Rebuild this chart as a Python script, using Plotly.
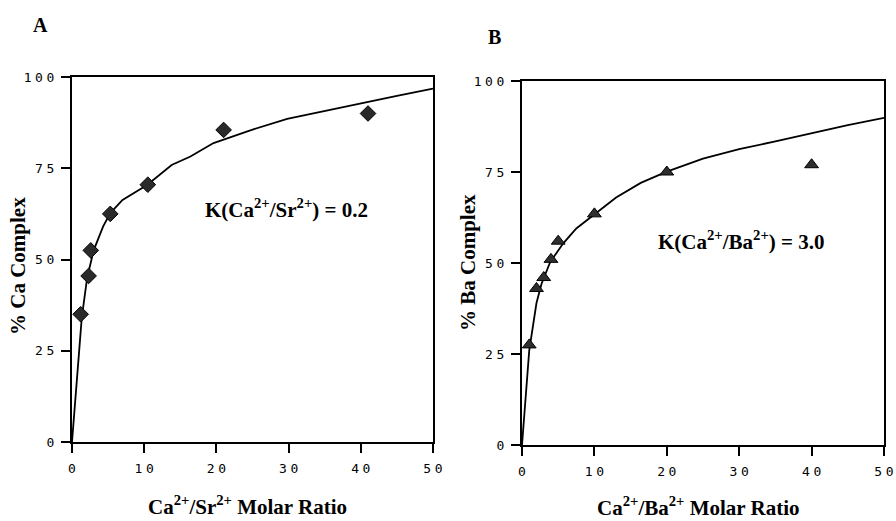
import plotly.graph_objects as go

# Panel A: Ca / Sr
a_x = [1.2, 2.3, 2.6, 5.3, 10.5, 21, 41]
a_y = [35, 45.5, 52.5, 62.5, 70.5, 85.5, 90]
a_fit_x = [0, 1.35, 2.1, 3, 4.3, 5.3, 7, 10.4, 13.8, 16.4, 19.6, 24.7, 29.8, 35, 40, 45, 50]
a_fit_y = [0, 34, 45, 52.5, 59, 62.7, 66.3, 70.4, 75.9, 78.2, 81.9, 85.4, 88.5, 90.7, 92.7, 94.8, 96.8]

# Panel B: Ca / Ba
b_x = [1, 2, 3, 4, 5, 10, 20, 40]
b_y = [27.5, 43, 46, 51, 56, 63.5, 75, 77]
b_fit_x = [0, 1, 2, 2.7, 3.9, 5.7, 7.5, 10, 13, 16.4, 20, 25, 30, 35, 40, 45, 50]
b_fit_y = [0, 26, 39, 44.3, 50.3, 55.4, 59.5, 63.3, 68, 72, 75.1, 78.7, 81.3, 83.4, 85.7, 87.9, 89.9]

x_ticks = [0, 10, 20, 30, 40, 50]
x_tick_labels = ["0", "10", "20", "30", "40", "50"]
y_ticks = [0, 25, 50, 75, 100]
y_tick_labels = ["0", "25", "50", "75", "100"]

SERIF = "Liberation Serif"
MONO = "DejaVu Sans Mono"
W, H = 896, 521

# widen digit spacing like the typewriter-style labels of the original
GAP = "<span style='font-size:6px'> </span>"


def spaced(label):
    return GAP.join(label)


fig = go.Figure()
fig.add_trace(go.Scatter(x=a_fit_x, y=a_fit_y, mode="lines",
                         line=dict(color="black", width=1.8), xaxis="x", yaxis="y",
                         showlegend=False))
fig.add_trace(go.Scatter(x=a_x, y=a_y, mode="markers",
                         marker=dict(symbol="diamond", size=12, color="#2a2a2a",
                                     line=dict(color="black", width=1)),
                         xaxis="x", yaxis="y", showlegend=False))
fig.add_trace(go.Scatter(x=b_fit_x, y=b_fit_y, mode="lines",
                         line=dict(color="black", width=1.8), xaxis="x2", yaxis="y2",
                         showlegend=False))
fig.add_trace(go.Scatter(x=b_x, y=b_y, mode="markers",
                         marker=dict(symbol="triangle-up", size=12, color="#2e2e2e",
                                     line=dict(color="black", width=1)),
                         xaxis="x2", yaxis="y2", showlegend=False))

tickfont = dict(family=MONO, size=13, color="black")
axis_common = dict(range=[0, 50], tickvals=x_ticks,
                   ticktext=[spaced(t) for t in x_tick_labels],
                   showgrid=False, zeroline=False, showline=True, linecolor="black",
                   linewidth=2, mirror=True, ticks="outside", ticklen=9, tickwidth=2,
                   tickcolor="black", tickfont=tickfont, ticklabelstandoff=4,
                   automargin=False)
yaxis_common = dict(range=[0, 100], tickvals=y_ticks,
                    ticktext=[spaced(t) for t in y_tick_labels],
                    showgrid=False, zeroline=False, showline=True, linecolor="black",
                    linewidth=2, mirror=True, ticks="outside", ticklen=9, tickwidth=2,
                    tickcolor="black", tickfont=tickfont, ticklabelstandoff=4,
                    automargin=False)


def ann(text, px, py, size=21, angle=0):
    return dict(text=text, x=px / W, y=1 - py / H, xref="paper", yref="paper",
                showarrow=False, textangle=angle, xanchor="center", yanchor="middle",
                font=dict(family=SERIF, size=size, color="black"))


fig.update_layout(
    width=W, height=H,
    margin=dict(l=0, r=0, t=0, b=0),
    paper_bgcolor="white", plot_bgcolor="white",
    xaxis=dict(domain=[72 / W, 433 / W], anchor="y", **axis_common),
    yaxis=dict(domain=[1 - 442 / H, 1 - 77 / H], anchor="x", **yaxis_common),
    xaxis2=dict(domain=[522 / W, 884 / W], anchor="y2", **axis_common),
    yaxis2=dict(domain=[1 - 445 / H, 1 - 81 / H], anchor="x2", **yaxis_common),
    annotations=[
        ann("<b>A</b>", 40, 25, size=20),
        ann("<b>B</b>", 494, 37, size=20),
        ann("<b>K(Ca<sup>2+</sup>/Sr<sup>2+</sup>) = 0.2</b>", 286, 208),
        ann("<b>K(Ca<sup>2+</sup>/Ba<sup>2+</sup>) = 3.0</b>", 741, 240),
        ann("<b>Ca<sup>2+</sup>/Sr<sup>2+</sup> Molar Ratio</b>", 247, 505),
        ann("<b>Ca<sup>2+</sup>/Ba<sup>2+</sup> Molar Ratio</b>", 698, 506),
        ann("<b>% Ca Complex</b>", 18, 266, angle=-90),
        ann("<b>% Ba Complex</b>", 468, 263, angle=-90),
    ],
)

fig.write_html("out.html", config={"displayModeBar": False},
               post_script="document.body.style.margin='0';document.body.style.overflow='hidden';")
